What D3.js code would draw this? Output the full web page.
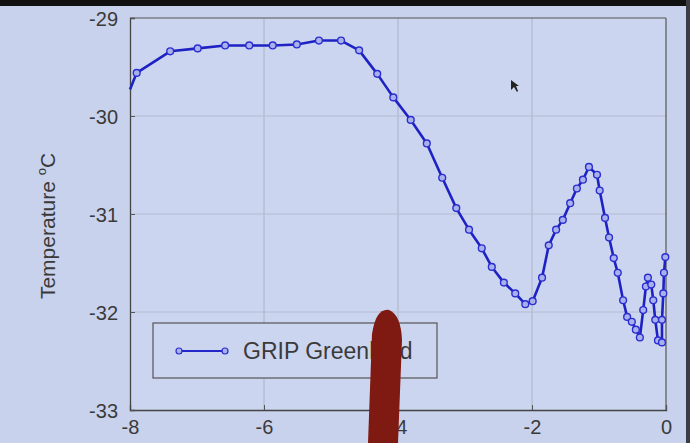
<!DOCTYPE html>
<html>
<head>
<meta charset="utf-8">
<script src="https://cdn.jsdelivr.net/npm/d3@7"></script>
<style>
  html, body { margin: 0; padding: 0; background: #c9d2ec; }
  svg { display: block; font-family: "Liberation Sans", Arial, sans-serif; }
</style>
</head>
<body>
<div id="chart"></div>
<script>
// GRIP Greenland temperature record
const ages = [-8.00, -7.90, -7.40, -6.99, -6.58, -6.22, -5.87, -5.51, -5.18, -4.85,
  -4.58, -4.31, -4.07, -3.81, -3.57, -3.34, -3.13, -2.94, -2.75, -2.60,
  -2.42, -2.25, -2.10, -1.99, -1.85, -1.75, -1.64, -1.54, -1.43, -1.33,
  -1.24, -1.15, -1.03, -0.99, -0.91, -0.85, -0.78, -0.72, -0.64, -0.58,
  -0.51, -0.45, -0.39, -0.34, -0.30, -0.27, -0.22, -0.19, -0.16, -0.12,
  -0.06, -0.06, -0.04, -0.03, -0.01];
const temps = [-29.73, -29.56, -29.34, -29.31, -29.28, -29.28, -29.28, -29.27, -29.23, -29.23,
  -29.33, -29.57, -29.81, -30.04, -30.28, -30.63, -30.94, -31.16, -31.35, -31.54,
  -31.70, -31.81, -31.92, -31.89, -31.65, -31.32, -31.16, -31.06, -30.89, -30.74,
  -30.65, -30.52, -30.60, -30.76, -31.04, -31.24, -31.45, -31.60, -31.88, -32.05,
  -32.10, -32.18, -32.26, -31.98, -31.74, -31.65, -31.72, -31.88, -32.08, -32.29,
  -32.31, -32.08, -31.81, -31.60, -31.44];
const xTicks = [-8, -6, -4, -2, 0];
const yTicks = [-33, -32, -31, -30, -29];
const seriesName = 'GRIP Greenland';

const data = ages.map((a, i) => ({x: a, y: temps[i]}));

const width = 690, height = 443;
const svg = d3.select('#chart').append('svg')
  .attr('width', width).attr('height', height);

// screen background + dark borders of the photo
svg.append('rect').attr('width', width).attr('height', height).attr('fill', '#c9d2ec');
svg.append('rect').attr('width', width).attr('height', 6).attr('fill', '#111');
svg.append('rect').attr('x', 686).attr('width', 4).attr('height', height).attr('fill', '#3a3d48');

const x = d3.scaleLinear().domain([-8, 0]).range([130, 666]);
const y = d3.scaleLinear().domain([-33, -29]).range([410, 18]);

// plot area
svg.append('rect')
  .attr('x', x(-8)).attr('y', y(-29))
  .attr('width', x(0) - x(-8)).attr('height', y(-33) - y(-29))
  .attr('fill', '#ccd5ef');

// grid
svg.append('g').selectAll('line')
  .data(xTicks.slice(1, -1)).enter().append('line')
    .attr('x1', d => x(d)).attr('x2', d => x(d))
    .attr('y1', y(-29)).attr('y2', y(-33))
    .attr('stroke', '#aab2c8').attr('stroke-width', 1);
svg.append('g').selectAll('line')
  .data(yTicks.slice(1, -1)).enter().append('line')
    .attr('x1', x(-8)).attr('x2', x(0))
    .attr('y1', d => y(d)).attr('y2', d => y(d))
    .attr('stroke', '#b4bcd2').attr('stroke-width', 1);

// axes (ticks inside, matlab style); plain hyphen minus like the slide
const fmt = d => String(d);
const axX = svg.append('g').attr('transform', `translate(0,${y(-33)})`)
  .call(d3.axisBottom(x).tickValues(xTicks).tickSize(-5).tickPadding(15).tickFormat(fmt));
const axY = svg.append('g').attr('transform', `translate(${x(-8)},0)`)
  .call(d3.axisLeft(y).tickValues(yTicks).tickSize(-5).tickPadding(12).tickFormat(fmt));
[axX, axY].forEach(ax => {
  ax.select('.domain').attr('stroke', '#444').attr('stroke-width', 1.3);
  ax.selectAll('.tick line').attr('stroke', '#555');
  ax.selectAll('text').attr('font-size', 20).attr('fill', '#3a3a3a')
    .attr('font-family', '"Liberation Sans", Arial, sans-serif');
});
axX.selectAll('text').attr('dy', '0.45em');
axY.selectAll('text').attr('dy', '0.38em');

// top + right frame
svg.append('line').attr('x1', x(-8)).attr('x2', x(0)).attr('y1', y(-29)).attr('y2', y(-29))
  .attr('stroke', '#555').attr('stroke-width', 1.2);
svg.append('line').attr('x1', x(0)).attr('x2', x(0)).attr('y1', y(-29)).attr('y2', y(-33))
  .attr('stroke', '#555').attr('stroke-width', 1.2);

// y label
const yl = svg.append('text')
  .attr('transform', 'translate(55,226) rotate(-90)')
  .attr('text-anchor', 'middle')
  .attr('font-size', 21).attr('fill', '#3a3a3a');
yl.append('tspan').text('Temperature ');
yl.append('tspan').attr('font-size', 13).attr('dy', -9).text('o');
yl.append('tspan').attr('dy', 9).text('C');

// series
const line = d3.line().x(d => x(d.x)).y(d => y(d.y));
svg.append('path').datum(data)
  .attr('d', line)
  .attr('fill', 'none').attr('stroke', '#1e22c4').attr('stroke-width', 2.6)
  .attr('stroke-linejoin', 'round');
svg.append('g').selectAll('circle')
  .data(data.slice(1)).enter().append('circle')
    .attr('cx', d => x(d.x)).attr('cy', d => y(d.y)).attr('r', 3.4)
    .attr('fill', '#a9b1ec').attr('stroke', '#2a2ed0').attr('stroke-width', 1.4);

// legend
const lg = svg.append('g');
lg.append('rect').attr('x', 153).attr('y', 323).attr('width', 284).attr('height', 55)
  .attr('fill', '#ccd5ef').attr('stroke', '#555').attr('stroke-width', 1.2);
lg.append('line').attr('x1', 179).attr('x2', 225).attr('y1', 351).attr('y2', 351)
  .attr('stroke', '#2326c8').attr('stroke-width', 1.8);
lg.selectAll('circle').data([179, 225]).enter().append('circle')
  .attr('cx', d => d).attr('cy', 351).attr('r', 3)
  .attr('fill', '#a9b1ec').attr('stroke', '#2a2ed0').attr('stroke-width', 1.2);
lg.append('text').attr('x', 243).attr('y', 359)
  .attr('font-size', 23).attr('fill', '#3a3a3a').text(seriesName);

// laser pointer stick + mouse cursor seen in the photo
svg.append('path')
  .attr('d', 'M368,443 L372,334 Q376,308 389,310 Q401,315 402,340 L398,443 Z')
  .attr('fill', '#7e1a12');
svg.append('path')
  .attr('d', 'M511,80 L511,90 L514,87 L517,92 L518,91 L516,86 L519,86 Z')
  .attr('fill', '#222');
</script>
</body>
</html>
